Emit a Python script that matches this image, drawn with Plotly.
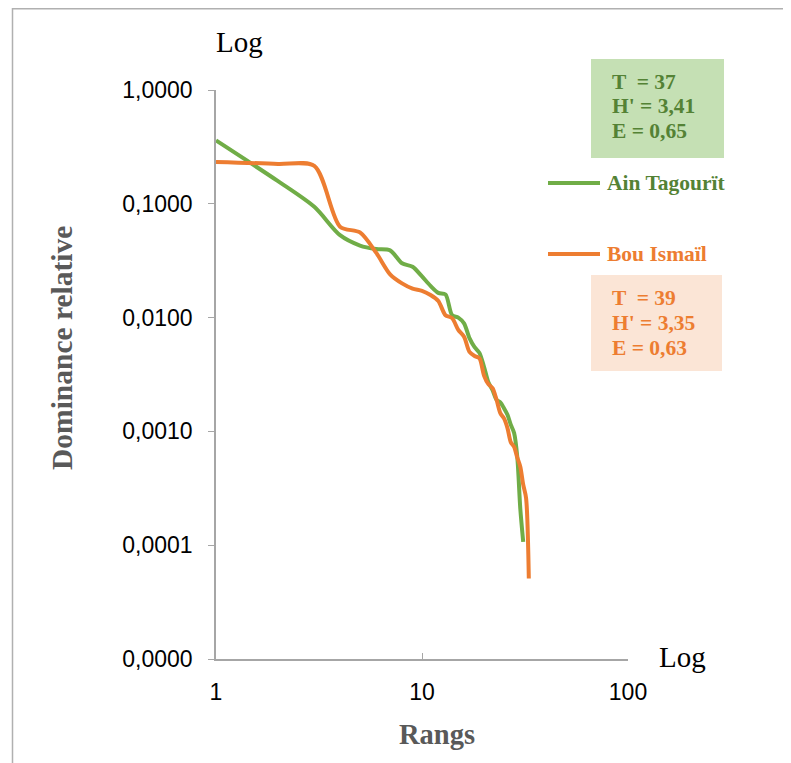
import plotly.graph_objects as go

# ---- data ----
ranks_ain = list(range(1, 32))
dom_ain = [0.36, 0.158, 0.094, 0.053, 0.043, 0.040, 0.039, 0.030, 0.028, 0.023,
           0.019, 0.0165, 0.0160, 0.0105, 0.0100, 0.0089, 0.0066, 0.0055, 0.0049, 0.0037,
           0.0027, 0.0023, 0.0019, 0.0018, 0.0016, 0.0014, 0.00114, 0.00097, 0.0006, 0.00021,
           0.000107]

ranks_bou = list(range(1, 34))
dom_bou = [0.233, 0.224, 0.215, 0.063, 0.056, 0.037, 0.024, 0.020, 0.018, 0.0172,
           0.0158, 0.014, 0.0105, 0.0099, 0.0078, 0.0068, 0.0050, 0.0046, 0.0044, 0.0031,
           0.0026, 0.0024, 0.0019, 0.00145, 0.0013, 0.00107, 0.0008, 0.00073, 0.00059, 0.00049,
           0.00034, 0.00026, 0.000051]

y_tickvals = [1, 0.1, 0.01, 0.001, 0.0001, 0.00001]
y_ticktext = ["1,0000", "0,1000", "0,0100", "0,0010", "0,0001", "0,0000"]
x_tickvals = [1, 10, 100]
x_ticktext = ["1", "10", "100"]

names = ["Ain Tagourït", "Bou Ismaïl"]
stats_ain = ["T  = 37", "H' = 3,41", "E = 0,65"]
stats_bou = ["T  = 39", "H' = 3,35", "E = 0,63"]

GREEN = "#70ad47"
GREEN_TXT = "#548235"
ORANGE = "#ed7d31"

# page offset (default body margin of the html page)
O = 8
W, H = 791 - O, 763 - O
# plot area in screenshot pixels
L, R, T, B = 216, 628, 90, 659


def px(x):
    return (x - L) / (R - L)


def py(y):
    return (B - y) / (B - T)


fig = go.Figure()
fig.add_trace(go.Scatter(x=ranks_ain, y=dom_ain, mode="lines", name=names[0],
                         line=dict(color=GREEN, width=4, shape="spline", smoothing=0.8)))
fig.add_trace(go.Scatter(x=ranks_bou, y=dom_bou, mode="lines", name=names[1],
                         line=dict(color=ORANGE, width=4, shape="spline", smoothing=0.8)))

serif = "Liberation Serif, Times New Roman, serif"
sans = "Liberation Sans, Arial, sans-serif"

fig.update_layout(
    width=W, height=H,
    margin=dict(l=L - O, r=791 - R, t=T - O, b=763 - B),
    paper_bgcolor="white", plot_bgcolor="white",
    showlegend=False,
    xaxis=dict(type="log", range=[0, 2], tickvals=x_tickvals, ticktext=x_ticktext,
               showgrid=False, zeroline=False, showline=True, linecolor="#a6a6a6", linewidth=1.5,
               ticks="inside", ticklen=6, tickcolor="#a6a6a6", tickwidth=1.2,
               tickfont=dict(family=sans, size=23, color="#000"), ticklabelstandoff=12),
    yaxis=dict(type="log", range=[-5, 0], tickvals=y_tickvals, ticktext=y_ticktext,
               showgrid=False, zeroline=False, showline=True, linecolor="#a6a6a6", linewidth=1.5,
               ticks="outside", ticklen=6, tickcolor="#a6a6a6", tickwidth=1.2,
               tickfont=dict(family=sans, size=23, color="#000"), ticklabelstandoff=11),
)

shapes = []
# outer chart border
shapes.append(dict(type="rect", xref="paper", yref="paper",
                   x0=px(12.5), x1=px(800), y0=py(775), y1=py(8.8),
                   line=dict(color="#b0b0b0", width=1.5), fillcolor="rgba(0,0,0,0)", layer="below"))
# stat boxes
shapes.append(dict(type="rect", xref="paper", yref="paper",
                   x0=px(591), x1=px(724), y0=py(158), y1=py(59),
                   line=dict(width=0), fillcolor="#c5e0b4"))
shapes.append(dict(type="rect", xref="paper", yref="paper",
                   x0=px(591), x1=px(722), y0=py(371), y1=py(275),
                   line=dict(width=0), fillcolor="#fbe5d6"))
# legend lines
shapes.append(dict(type="line", xref="paper", yref="paper",
                   x0=px(548), x1=px(600), y0=py(183), y1=py(183),
                   line=dict(color=GREEN, width=4)))
shapes.append(dict(type="line", xref="paper", yref="paper",
                   x0=px(548), x1=px(600), y0=py(254), y1=py(254),
                   line=dict(color=ORANGE, width=4)))

ann = []


def text(x, y, s, size, color, family=serif, bold=False, xanchor="center", angle=0):
    ann.append(dict(x=px(x), y=py(y), xref="paper", yref="paper", text=("<b>%s</b>" % s) if bold else s,
                    showarrow=False, xanchor=xanchor, yanchor="middle", textangle=angle,
                    font=dict(family=family, size=size, color=color)))


text(239, 42, "Log", 29, "#000")
text(682, 657, "Log", 29, "#000")
text(437, 734, "Rangs", 28.5, "#595959", bold=True)
text(62, 348, "Dominance relative", 29.5, "#595959", bold=True, angle=-90)
text(605, 183, names[0], 21.5, GREEN_TXT, bold=True, xanchor="left")
text(605, 254, names[1], 21.5, ORANGE, bold=True, xanchor="left")
for i, s in enumerate(stats_ain):
    text(610, 82 + i * 24.5, s, 21.5, GREEN_TXT, bold=True, xanchor="left")
for i, s in enumerate(stats_bou):
    text(610, 298 + i * 25, s, 21.5, ORANGE, bold=True, xanchor="left")

fig.update_layout(shapes=shapes, annotations=ann)
fig.write_html("out.html")
